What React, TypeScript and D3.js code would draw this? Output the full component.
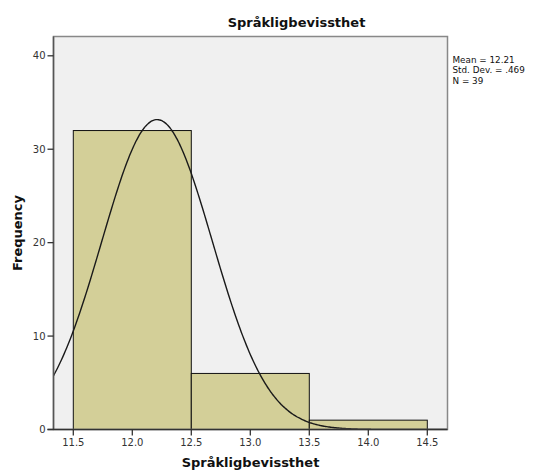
import React from "react";
import * as d3 from "d3";

const binStarts = [11.5, 12.5, 13.5];
const binEnds = [12.5, 13.5, 14.5];
const frequencies = [32, 6, 1];
const xTicks = [11.5, 12.0, 12.5, 13.0, 13.5, 14.0, 14.5];
const yTicks = [0, 10, 20, 30, 40];
const mean = 12.21;
const stdDev = 0.469;
const n = 39;
const statLines = ["Mean = 12.21", "Std. Dev. = .469", "N = 39"];
const title = "Språkligbevissthet";
const xLabel = "Språkligbevissthet";
const yLabel = "Frequency";

const W = 536;
const H = 471;
const left = 53.5;
const right = 447.5;
const top = 36.5;
const bottom = 429.5;

export default function App() {
  const x = d3.scaleLinear().domain([11.5, 14.5]).range([73.3, 427.3]);
  const y = d3.scaleLinear().domain([0, 40]).range([bottom, 55.8]);
  const x0 = x.invert(left);
  const x1 = x.invert(right);
  const pdf = (v: number) =>
    (n * 1 * Math.exp(-0.5 * ((v - mean) / stdDev) ** 2)) / (stdDev * Math.sqrt(2 * Math.PI));
  const pts = d3.range(0, 301).map((i) => x0 + ((x1 - x0) * i) / 300);
  const line = d3
    .line<number>()
    .x((v) => x(v))
    .y((v) => y(pdf(v)))
    .curve(d3.curveBasis);
  const font = "'DejaVu Sans', sans-serif";
  return (
    <svg
      width={W}
      height={H}
      style={{ position: "absolute", left: 0, top: 0 }}
      xmlns="http://www.w3.org/2000/svg"
    >
      <rect x={0} y={0} width={W} height={H} fill="#ffffff" />
      <defs>
        <clipPath id="plotclip">
          <rect x={left} y={top} width={right - left} height={bottom - top} />
        </clipPath>
      </defs>
      <rect x={left} y={top} width={right - left} height={bottom - top} fill="#f0f0f0" />
      {frequencies.map((f, i) => (
        <rect
          key={i}
          x={x(binStarts[i])}
          y={y(f)}
          width={x(binEnds[i]) - x(binStarts[i])}
          height={y(0) - y(f)}
          fill="#d3cf98"
          stroke="#111"
          strokeWidth={1}
        />
      ))}
      <path d={line(pts) || ""} fill="none" stroke="#1a1a1a" strokeWidth={1.4} clipPath="url(#plotclip)" />
      <rect
        x={left}
        y={top}
        width={right - left}
        height={bottom - top}
        fill="none"
        stroke="#888"
        strokeWidth={1.5}
      />
      <line x1={left} x2={left} y1={top} y2={bottom} stroke="#555" strokeWidth={1.5} />
      <line x1={left - 6} x2={right} y1={bottom} y2={bottom} stroke="#333" strokeWidth={1.5} />
      {yTicks.map((t) => (
        <g key={t}>
          <line x1={left - 6} x2={left} y1={y(t)} y2={y(t)} stroke="#333" strokeWidth={1.3} />
          <text
            x={left - 8}
            y={y(t) + 3.5}
            textAnchor="end"
            fontSize={10}
            fontFamily={font}
            fill="#333"
          >
            {t}
          </text>
        </g>
      ))}
      {xTicks.map((t) => (
        <g key={t}>
          <line x1={x(t)} x2={x(t)} y1={bottom} y2={bottom + 6} stroke="#333" strokeWidth={1.3} />
          <text
            x={x(t)}
            y={bottom + 16.5}
            textAnchor="middle"
            fontSize={10}
            fontFamily={font}
            fill="#333"
          >
            {t.toFixed(1)}
          </text>
        </g>
      ))}
      <text
        x={296.5}
        y={27}
        textAnchor="middle"
        fontSize={13}
        fontWeight="bold"
        fontFamily={font}
        fill="#111"
      >
        {title}
      </text>
      <text
        x={(left + right) / 2}
        y={467}
        textAnchor="middle"
        fontSize={13}
        fontWeight="bold"
        fontFamily={font}
        fill="#111"
      >
        {xLabel}
      </text>
      <text
        transform={`translate(22, ${(top + bottom) / 2}) rotate(-90)`}
        textAnchor="middle"
        fontSize={13}
        fontWeight="bold"
        fontFamily={font}
        fill="#111"
      >
        {yLabel}
      </text>
      {statLines.map((s, i) => (
        <text
          key={i}
          x={452.5}
          y={63 + i * 10.3}
          fontSize={8.8}
          fontFamily={font}
          fill="#111"
        >
          {s}
        </text>
      ))}
    </svg>
  );
}
